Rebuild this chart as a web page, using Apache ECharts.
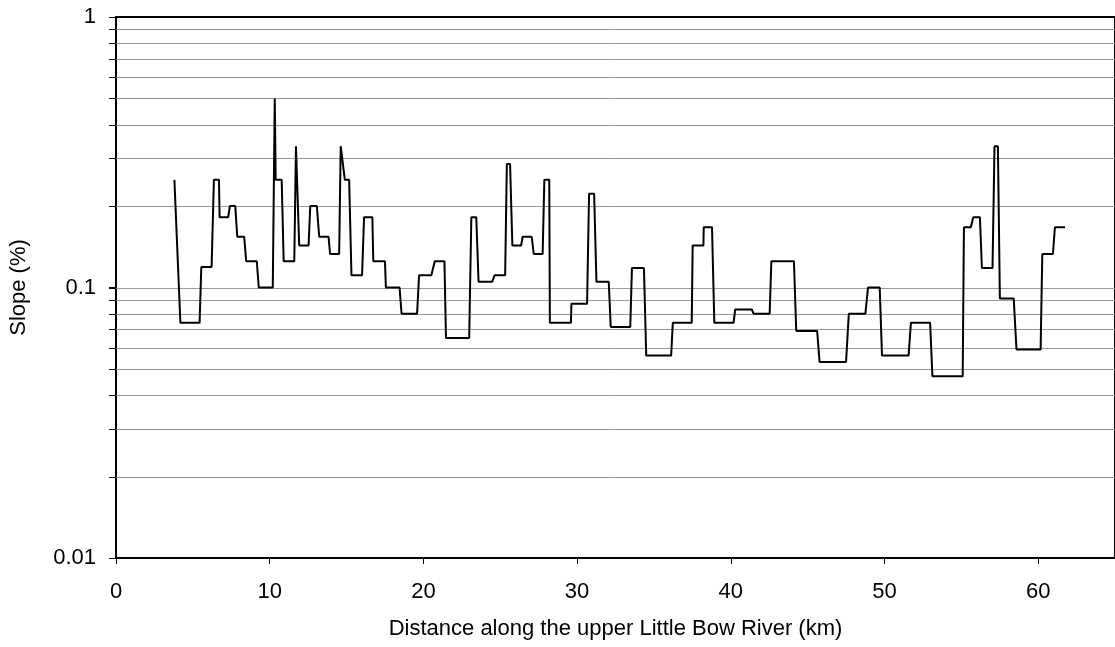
<!DOCTYPE html>
<html>
<head>
<meta charset="utf-8">
<script src="https://cdn.jsdelivr.net/npm/echarts@6/dist/echarts.min.js"></script>
<style>
html,body{margin:0;padding:0;background:#fff;}
#chart{width:1115px;height:647px;}
</style>
</head>
<body>
<div id="chart"></div>
<script>
// Distance along river (km) and slope (%) — step-like profile
const distanceKm = [
  3.80, 4.19, 5.44, 5.55, 6.22, 6.37, 6.70, 6.74, 7.30, 7.41,
  7.76, 7.89, 8.34, 8.47, 9.16, 9.29, 10.20, 10.33, 10.39, 10.78,
  10.91, 11.60, 11.71, 11.82, 11.92, 12.53, 12.64, 13.07, 13.22, 13.83,
  13.93, 14.52, 14.62, 14.73, 14.89, 15.17, 15.32, 16.01, 16.14, 16.68,
  16.74, 17.50, 17.56, 18.45, 18.58, 19.59, 19.72, 20.52, 20.74, 21.37,
  21.47, 22.98, 23.12, 23.44, 23.59, 24.48, 24.63, 25.32, 25.43, 25.64,
  25.79, 26.36, 26.46, 27.05, 27.18, 27.76, 27.87, 28.19, 28.23, 29.60,
  29.63, 30.65, 30.78, 31.11, 31.26, 32.06, 32.19, 33.46, 33.57, 34.35,
  34.50, 36.12, 36.23, 37.46, 37.52, 38.22, 38.24, 38.78, 38.93, 40.18,
  40.29, 41.37, 41.48, 42.53, 42.64, 44.11, 44.26, 45.62, 45.78, 47.50,
  47.68, 48.76, 48.93, 49.69, 49.84, 51.57, 51.72, 52.97, 53.12, 55.09,
  55.17, 55.62, 55.78, 56.21, 56.34, 57.03, 57.16, 57.38, 57.51, 58.41,
  58.59, 60.16, 60.27, 60.96, 61.09, 61.75
];
const slopePct = [
  0.25, 0.074, 0.074, 0.119, 0.119, 0.25, 0.25, 0.182, 0.182, 0.2,
  0.2, 0.154, 0.154, 0.125, 0.125, 0.1, 0.1, 0.5, 0.25, 0.25,
  0.125, 0.125, 0.333, 0.333, 0.143, 0.143, 0.2, 0.2, 0.154, 0.154,
  0.133, 0.133, 0.333, 0.333, 0.25, 0.25, 0.111, 0.111, 0.182, 0.182,
  0.125, 0.125, 0.1, 0.1, 0.08, 0.08, 0.111, 0.111, 0.125, 0.125,
  0.065, 0.065, 0.182, 0.182, 0.105, 0.105, 0.111, 0.111, 0.286, 0.286,
  0.143, 0.143, 0.154, 0.154, 0.133, 0.133, 0.25, 0.25, 0.074, 0.074,
  0.087, 0.087, 0.222, 0.222, 0.105, 0.105, 0.0714, 0.0714, 0.118, 0.118,
  0.056, 0.056, 0.074, 0.074, 0.143, 0.143, 0.167, 0.167, 0.074, 0.074,
  0.083, 0.083, 0.08, 0.08, 0.125, 0.125, 0.069, 0.069, 0.053, 0.053,
  0.08, 0.08, 0.1, 0.1, 0.056, 0.056, 0.074, 0.074, 0.047, 0.047,
  0.167, 0.167, 0.182, 0.182, 0.118, 0.118, 0.333, 0.333, 0.091, 0.091,
  0.059, 0.059, 0.133, 0.133, 0.167, 0.167
];
// Log-scale gridline values (major + minor)
const gridValues = [0.02, 0.03, 0.04, 0.05, 0.06, 0.07, 0.08, 0.09, 0.1,
                    0.2, 0.3, 0.4, 0.5, 0.6, 0.7, 0.8, 0.9];

const FONT = "'Liberation Sans', Arial, sans-serif";
const FS = 22;
const chart = echarts.init(document.getElementById('chart'), null, {renderer: 'canvas'});

const seriesData = distanceKm.map((d, i) => [d, slopePct[i]]);

chart.setOption({
  animation: false,
  backgroundColor: '#fff',
  textStyle: {fontFamily: FONT, color: '#000'},
  grid: {
    left: 116, right: -4, top: 17, bottom: 89,
    show: true, borderColor: '#000', borderWidth: 2, backgroundColor: 'transparent'
  },
  xAxis: {
    type: 'value', min: 0, max: 65, interval: 10,
    name: 'Distance along the upper Little Bow River (km)',
    nameLocation: 'middle', nameGap: 60,
    nameTextStyle: {fontFamily: FONT, fontSize: FS, color: '#000'},
    axisLine: {show: true, lineStyle: {color: '#000', width: 2}},
    axisTick: {show: true, length: 6, lineStyle: {color: '#000', width: 1}},
    axisLabel: {fontFamily: FONT, fontSize: FS, color: '#000', margin: 23, showMaxLabel: false},
    splitLine: {show: false}
  },
  yAxis: {
    type: 'log', logBase: 10, min: 0.01, max: 1,
    name: 'Slope (%)', nameLocation: 'middle', nameGap: 86,
    nameTextStyle: {fontFamily: FONT, fontSize: FS, color: '#000'},
    axisLine: {show: true, lineStyle: {color: '#000', width: 2}},
    axisTick: {show: true, length: 7, lineStyle: {color: '#000', width: 1}},
    axisLabel: {fontFamily: FONT, fontSize: FS, color: '#000', margin: 20,
      formatter: function (v) { return String(+v.toPrecision(3)); }},
    splitLine: {show: false}
  },
  series: [
    {
      type: 'custom',
      clip: false,
      silent: true,
      z: 1,
      encode: {x: 0, y: 1},
      data: gridValues.map(v => [0, v]),
      renderItem: function (params, api) {
        const p = api.coord([0, api.value(1)]);
        const cs = params.coordSys;
        const y = Math.round(p[1]) + 0.5;
        return {
          type: 'group',
          children: [
            {type: 'line', shape: {x1: cs.x, y1: y, x2: cs.x + cs.width, y2: y},
             style: {stroke: '#9a9a9a', lineWidth: 1}},
            {type: 'line', shape: {x1: cs.x - 7, y1: y, x2: cs.x, y2: y},
             style: {stroke: '#000', lineWidth: 1}}
          ]
        };
      }
    },
    {
      type: 'line',
      z: 3,
      data: seriesData,
      showSymbol: false,
      symbol: 'none',
      lineStyle: {color: '#000', width: 2},
      itemStyle: {color: '#000'}
    }
  ]
});
</script>
</body>
</html>
